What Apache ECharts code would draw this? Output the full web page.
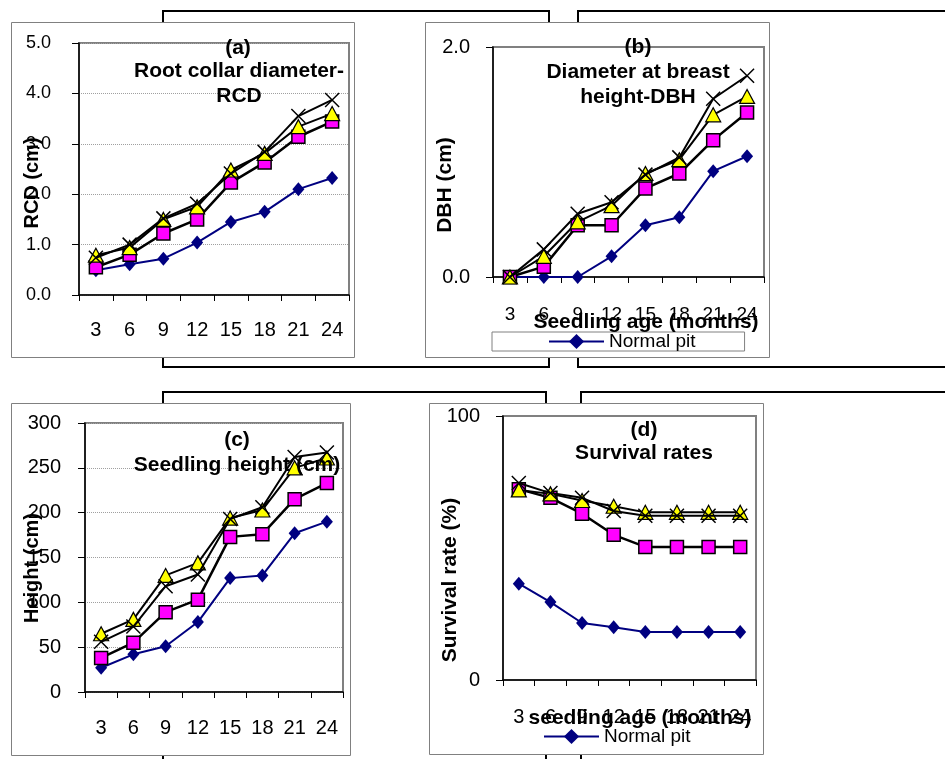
<!DOCTYPE html>
<html>
<head>
<meta charset="utf-8">
<script src="https://cdn.jsdelivr.net/npm/echarts@6/dist/echarts.min.js"></script>
<style>
html,body{margin:0;padding:0;background:#fff;}
#chart{width:945px;height:759px;}
</style>
</head>
<body>
<div id="chart"></div>
<script>
// Categories (seedling age, months)
const months = ['3', '6', '9', '12', '15', '18', '21', '24'];

// (a) Root collar diameter (cm)
const rcdNormal = [0.49, 0.61, 0.72, 1.04, 1.45, 1.65, 2.10, 2.32];
const rcdSquare = [0.55, 0.80, 1.22, 1.50, 2.23, 2.63, 3.14, 3.44];
const rcdTriangle = [0.79, 0.94, 1.50, 1.75, 2.48, 2.81, 3.34, 3.60];
const rcdCross = [0.74, 1.00, 1.52, 1.81, 2.41, 2.84, 3.55, 3.87];

// (b) Diameter at breast height (cm)
const dbhNormal = [0, 0, 0, 0.18, 0.45, 0.52, 0.92, 1.05];
const dbhSquare = [0, 0.09, 0.45, 0.45, 0.77, 0.90, 1.19, 1.43];
const dbhTriangle = [0, 0.18, 0.48, 0.62, 0.90, 1.02, 1.41, 1.57];
const dbhCross = [0, 0.24, 0.55, 0.65, 0.89, 1.04, 1.55, 1.75];

// (c) Seedling height (cm)
const htNormal = [27, 42, 51, 78, 127, 130, 177, 190];
const htSquare = [38, 55, 89, 103, 173, 176, 215, 233];
const htTriangle = [65, 81, 130, 144, 194, 203, 250, 261];
const htCross = [56, 73, 118, 131, 193, 206, 262, 267];

// (d) Survival rate (%)
const srNormal = [36.5, 29.5, 21.6, 20.0, 18.2, 18.2, 18.2, 18.2];
const srSquare = [72.3, 69.0, 63.0, 55.0, 50.4, 50.4, 50.4, 50.4];
const srTriangle = [72.0, 70.5, 68.0, 65.8, 63.5, 63.5, 63.5, 63.5];
const srCross = [74.6, 70.8, 69.0, 64.0, 62.2, 62.2, 62.2, 62.2];

// Y axis ranges / tick labels
const yMin = [0, 0, 0, 0];
const yMax = [5, 2, 300, 100];
const yStep = [1, 2, 50, 100];
const yDecimals = [1, 1, 0, 0];

const FONT = '"Liberation Sans", Arial, Helvetica, sans-serif';

const chart = echarts.init(document.getElementById('chart'), null, {renderer: 'canvas'});

const grids = [
  {left: 79, top: 43, width: 270, height: 252},
  {left: 493, top: 47, width: 271, height: 230},
  {left: 85, top: 423, width: 258, height: 269},
  {left: 503, top: 416, width: 253, height: 264}
].map(g => Object.assign(g, {
  show: true, borderColor: '#808080', borderWidth: 2,
  backgroundColor: 'transparent', outerBoundsMode: 'none', containLabel: false
}));

const xLabelMargin = [25, 28, 26, 27];
const xLabelSize = [20, 19, 20, 20];
const yLabelMargin = [28, 23, 24, 23];
const yLabelSize = [18, 20, 20, 20];
const showGrid = [true, false, true, false];

const xAxes = [0, 1, 2, 3].map(i => ({
  type: 'category', gridIndex: i, data: months, boundaryGap: true,
  axisLine: {show: true, lineStyle: {color: '#000', width: 1.5}},
  axisTick: {show: true, length: 6, lineStyle: {color: '#000', width: 1}},
  axisLabel: {interval: 0, margin: xLabelMargin[i], fontSize: xLabelSize[i], color: '#000', fontFamily: FONT},
  splitLine: {show: false}
}));

const yAxes = [0, 1, 2, 3].map(i => ({
  type: 'value', gridIndex: i, min: yMin[i], max: yMax[i], interval: yStep[i],
  axisLine: {show: true, lineStyle: {color: '#000', width: 1.5}},
  axisTick: {show: true, length: 7, lineStyle: {color: '#000', width: 1}},
  axisLabel: {
    margin: yLabelMargin[i], fontSize: yLabelSize[i], color: '#000', fontFamily: FONT,
    showMinLabel: true, showMaxLabel: true,
    formatter: v => Number(v).toFixed(yDecimals[i])
  },
  splitLine: {show: showGrid[i], lineStyle: {color: '#a0a0a0', type: 'dotted', width: 1}}
}));

const crossPath = 'path://M0,0L10,10M10,0L0,10';

function seriesSet(i, normal, square, tri, cross) {
  return [
    {
      name: 'Normal pit', type: 'line', xAxisIndex: i, yAxisIndex: i, data: normal,
      symbol: 'diamond', symbolSize: [12, 14], showAllSymbol: true, z: 2,
      lineStyle: {color: '#000080', width: 2},
      itemStyle: {color: '#000080', borderColor: '#000080', borderWidth: 0}
    },
    {
      name: 'Series 2', type: 'line', xAxisIndex: i, yAxisIndex: i, data: square,
      symbol: 'rect', symbolSize: 13, showAllSymbol: true, z: 3,
      lineStyle: {color: '#000', width: 2.5},
      itemStyle: {color: '#FF00FF', borderColor: '#000', borderWidth: 1.5}
    },
    {
      name: 'Series 3', type: 'line', xAxisIndex: i, yAxisIndex: i, data: tri,
      symbol: 'triangle', symbolSize: [15, 14], showAllSymbol: true, z: 4,
      lineStyle: {color: '#000', width: 2},
      itemStyle: {color: '#FFFF00', borderColor: '#000', borderWidth: 1.2}
    },
    {
      name: 'Series 4', type: 'line', xAxisIndex: i, yAxisIndex: i, data: cross,
      symbol: crossPath, symbolSize: 14, showAllSymbol: true, z: 5,
      lineStyle: {color: '#000', width: 2},
      itemStyle: {color: '#000', borderColor: '#000', borderWidth: 1.5}
    }
  ];
}

const series = [].concat(
  seriesSet(0, rcdNormal, rcdSquare, rcdTriangle, rcdCross),
  seriesSet(1, dbhNormal, dbhSquare, dbhTriangle, dbhCross),
  seriesSet(2, htNormal, htSquare, htTriangle, htCross),
  seriesSet(3, srNormal, srSquare, srTriangle, srCross)
);

function txt(text, x, y, size, opts) {
  opts = opts || {};
  return {
    type: 'text', x: x, y: y, rotation: opts.rotate ? Math.PI / 2 : 0, z: 10,
    style: {
      text: text, fill: '#000',
      font: 'bold ' + size + 'px ' + FONT,
      textAlign: 'center', textVerticalAlign: 'middle',
      align: 'center', verticalAlign: 'middle'
    }
  };
}

function decor(x, y, w, h) {
  return {type: 'rect', z: -20, shape: {x: x, y: y, width: w, height: h},
    style: {fill: 'none', stroke: '#000', lineWidth: 2}};
}
function box(x, y, w, h) {
  return {type: 'rect', z: -10, shape: {x: x, y: y, width: w, height: h},
    style: {fill: '#fff', stroke: '#808080', lineWidth: 1}};
}

const graphics = [
  decor(163, 11, 386, 356),
  decor(578, 11, 400, 356),
  decor(163, 392, 383, 400),
  decor(581, 392, 400, 400),
  box(11.5, 22.5, 343, 335),
  box(425.5, 22.5, 344, 335),
  box(11.5, 403.5, 339, 352),
  box(429.5, 403.5, 334, 351),
  // panel titles
  txt('(a)', 238, 48, 21), txt('Root collar diameter-', 239, 71, 21), txt('RCD', 239, 96, 21),
  txt('(b)', 638, 47, 21), txt('Diameter at breast', 638, 72, 21), txt('height-DBH', 638, 97, 21),
  txt('(c)', 237, 440, 21), txt('Seedling height (cm)', 237, 465, 21),
  txt('(d)', 644, 430, 21), txt('Survival rates', 644, 453, 21),
  // axis names
  txt('RCD (cm)', 32, 183, 20, {rotate: true}),
  txt('DBH (cm)', 445, 185, 21, {rotate: true}),
  txt('Height (cm)', 32, 568, 20, {rotate: true}),
  txt('Survival rate (%)', 450, 580, 21, {rotate: true}),
  txt('Seedling age (months)', 646, 322, 21),
  txt('seedling age (months)', 640, 718, 21)
];

const legendCommon = {
  data: ['Normal pit'], orient: 'horizontal', itemWidth: 55, itemHeight: 19, itemGap: 10,
  selectedMode: false,
  textStyle: {fontSize: 19, color: '#000', fontFamily: FONT, padding: [0, 0, 0, 0]}
};

const option = {
  animation: false,
  backgroundColor: '#fff',
  grid: grids,
  xAxis: xAxes,
  yAxis: yAxes,
  legend: [
    Object.assign({}, legendCommon, {left: 492, top: 332, padding: [0, 49, 0, 56], borderColor: '#808080', borderWidth: 1}),
    Object.assign({}, legendCommon, {left: 543, top: 727, padding: 0})
  ],
  graphic: graphics,
  series: series
};

chart.setOption(option);
</script>
</body>
</html>
